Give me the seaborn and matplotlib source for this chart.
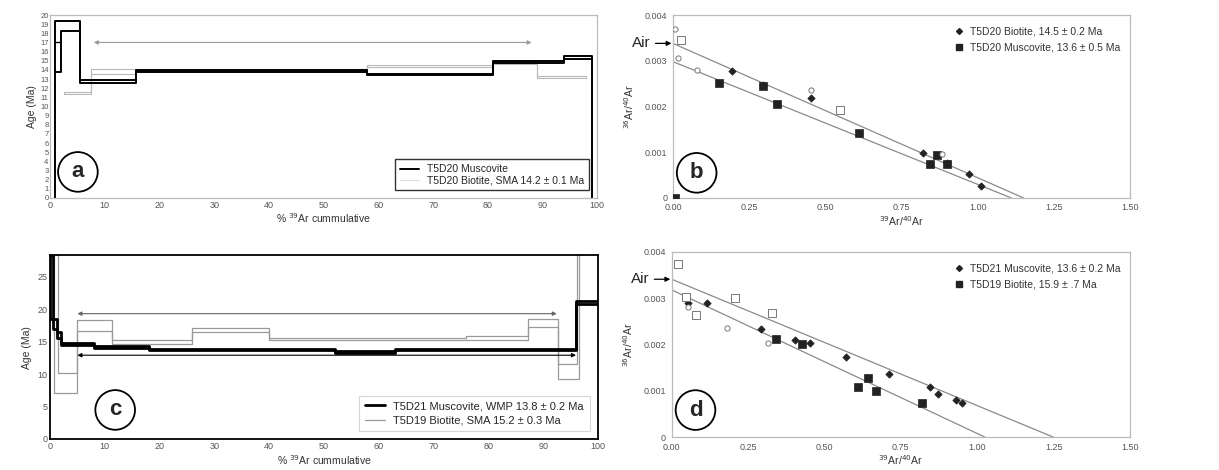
import numpy as np
import seaborn as sns
import matplotlib.pyplot as plt
from matplotlib.lines import Line2D

# ---- panel a: T5D20 age spectra (% 39Ar step edges, age bounds in Ma)
mus_a_edges = [0.9, 2.0, 5.5, 15.8, 58.0, 81.0, 94.0, 99.0]
mus_a_lo = [13.8, 18.2, 12.6, 13.8, 13.4, 14.7, 15.2]
mus_a_hi = [19.4, 19.4, 12.9, 14.0, 13.6, 15.0, 15.5]
bio_a_edges = [2.5, 7.5, 15.8, 58.0, 81.0, 89.0, 98.0]
bio_a_lo = [11.4, 13.6, 13.9, 14.3, 14.6, 13.1]
bio_a_hi = [11.6, 14.1, 14.1, 14.5, 14.9, 13.3]
plateau_a = [8.0, 88.0, 17.0]

# ---- panel c: T5D21 muscovite / T5D19 biotite age spectra
mus_c_edges = [0.0, 0.5, 1.3, 2.0, 8.0, 18.0, 52.0, 63.0, 96.0, 100.0]
mus_c_lo = [18.5, 17.0, 15.5, 14.4, 14.0, 13.7, 13.3, 13.7, 20.8]
mus_c_hi = [28.3, 18.5, 16.5, 14.8, 14.3, 13.9, 13.5, 13.9, 21.2]
bio_c_edges = [0.8, 1.4, 4.9, 11.4, 26.0, 40.0, 76.0, 87.3, 92.8, 96.2, 96.5]
bio_c_lo = [7.1, 7.1, 16.6, 14.7, 16.4, 15.2, 15.3, 17.3, 9.3, 9.3]
bio_c_hi = [28.3, 10.2, 18.3, 15.3, 17.1, 15.5, 15.8, 18.4, 11.6, 28.3]
plateau_c_bio = [5.0, 92.5, 19.3]
plateau_c_mus = [5.0, 96.0, 12.9]

# ---- panel b: T5D20 isochrons (39Ar/40Ar, 36Ar/40Ar)
bio_b_x = [0.194, 0.296, 0.454, 0.822, 0.898, 0.973, 1.012]
bio_b_y = [0.00278, 0.00247, 0.00219, 0.00099, 0.00076, 0.00052, 0.00027]
mus_b_x = [0.006, 0.150, 0.296, 0.342, 0.612, 0.843, 0.868, 0.898]
mus_b_y = [0.0, 0.00251, 0.00245, 0.00205, 0.00141, 0.00074, 0.00093, 0.00074]
open_circ_b_x = [0.006, 0.017, 0.080, 0.454, 0.882]
open_circ_b_y = [0.00369, 0.00305, 0.00280, 0.00236, 0.00095]
open_sq_b_x = [0.028, 0.548]
open_sq_b_y = [0.00345, 0.00192]
fit_b_bio = ([0.0, 1.15], [0.00338, 0.0])
fit_b_mus = ([0.0, 1.11], [0.00298, 0.0])
air_b = 0.00338

# ---- panel d: T5D21 muscovite / T5D19 biotite isochrons
mus_d_x = [0.053, 0.116, 0.293, 0.402, 0.454, 0.572, 0.710, 0.845, 0.873, 0.930, 0.949]
mus_d_y = [0.00290, 0.00289, 0.00234, 0.00210, 0.00203, 0.00172, 0.00136, 0.00109, 0.00094, 0.00080, 0.00073]
bio_d_x = [0.341, 0.426, 0.611, 0.644, 0.670, 0.820]
bio_d_y = [0.00212, 0.00202, 0.00109, 0.00128, 0.00100, 0.00073]
open_sq_d_x = [0.021, 0.048, 0.080, 0.206, 0.329]
open_sq_d_y = [0.00373, 0.00303, 0.00263, 0.00300, 0.00267]
open_circ_d_x = [0.053, 0.181, 0.316]
open_circ_d_y = [0.00280, 0.00236, 0.00204]
fit_d_mus = ([0.0, 1.249], [0.00341, 0.0])
fit_d_bio = ([0.0, 1.025], [0.00318, 0.0])
air_d = 0.00341

GREY = '#9a9a9a'
TICK = '#555555'

sns.set_style("white")
plt.rcParams['font.family'] = ['Liberation Sans', 'DejaVu Sans']

fig = plt.figure(figsize=(12.19, 4.70), dpi=100)
ax_a = fig.add_axes([0.041, 0.579, 0.449, 0.389])
ax_b = fig.add_axes([0.552, 0.579, 0.375, 0.389])
ax_c = fig.add_axes([0.041, 0.066, 0.4495, 0.391])
ax_d = fig.add_axes([0.551, 0.070, 0.376, 0.394])


def spectrum(ax, edges, lo, hi, color, lw):
    for bound in (lo, hi):
        sns.lineplot(x=list(edges), y=list(bound) + [bound[-1]], ax=ax, color=color,
                     lw=lw, drawstyle='steps-post', sort=False, estimator=None)
    ax.vlines([edges[0], edges[-1]], [lo[0], lo[-1]], [hi[0], hi[-1]], color=color, lw=lw)


def plateau(ax, p, color):
    ax.annotate('', xy=(p[1], p[2]), xytext=(p[0], p[2]),
                arrowprops=dict(arrowstyle='<|-|>', color=color, lw=0.8,
                                mutation_scale=6, shrinkA=0, shrinkB=0))


def circle_label(ax, x, y, s):
    ax.text(x, y, s, transform=ax.transAxes, ha='center', va='center',
            fontsize=16, fontweight='bold',
            bbox=dict(boxstyle='circle,pad=0.42', fc='white', ec='black', lw=1.3))


def style(ax, spine_color, spine_lw):
    for sp in ax.spines.values():
        sp.set_visible(True)
        sp.set_color(spine_color)
        sp.set_linewidth(spine_lw)
    ax.tick_params(length=0, labelsize=6.5, colors=TICK, pad=2)


# ---------------- panel a
spectrum(ax_a, bio_a_edges, bio_a_lo, bio_a_hi, '#b8b8b8', 0.8)
spectrum(ax_a, mus_a_edges, mus_a_lo, mus_a_hi, 'black', 1.4)
ax_a.vlines(mus_a_edges[-1], 0, mus_a_lo[-1], color='black', lw=1.4)
ax_a.vlines(mus_a_edges[0], 0, mus_a_lo[0], color='black', lw=1.4)
ax_a.hlines(17.0, mus_a_edges[0], mus_a_edges[1], color='black', lw=1.0)
plateau(ax_a, plateau_a, GREY)
ax_a.set_xlim(0, 100)
ax_a.set_ylim(0, 20)
ax_a.set_xticks(range(0, 101, 10))
ax_a.set_yticks(range(0, 21))
style(ax_a, '#bbbbbb', 0.9)
ax_a.tick_params(axis='y', labelsize=5.5, pad=1)
ax_a.set_xlabel(r'% $^{39}$Ar cummulative', fontsize=7.5, color='#333333', labelpad=1)
ax_a.set_ylabel('Age (Ma)', fontsize=7.5, color='#333333', labelpad=2)
h_a = [Line2D([], [], color='black', lw=1.4), Line2D([], [], color='#dddddd', lw=0.8)]
leg = ax_a.legend(h_a, ['T5D20 Muscovite', 'T5D20 Biotite, SMA 14.2 ± 0.1 Ma'],
                  loc='lower right', bbox_to_anchor=(0.995, 0.012), fontsize=7.5,
                  frameon=True, fancybox=False, handlelength=1.8, borderpad=0.5,
                  labelspacing=0.1, edgecolor='black')
leg.get_frame().set_linewidth(1.0)
circle_label(ax_a, 0.051, 0.142, 'a')

# ---------------- panel c
spectrum(ax_c, bio_c_edges, bio_c_lo, bio_c_hi, GREY, 0.9)
spectrum(ax_c, mus_c_edges, mus_c_lo, mus_c_hi, 'black', 2.0)
plateau(ax_c, plateau_c_bio, '#666666')
plateau(ax_c, plateau_c_mus, 'black')
ax_c.set_xlim(0, 100)
ax_c.set_ylim(0, 28.3)
ax_c.set_xticks(range(0, 101, 10))
ax_c.set_yticks(range(0, 26, 5))
style(ax_c, 'black', 1.3)
ax_c.set_xlabel(r'% $^{39}$Ar cummulative', fontsize=7.5, color='#333333', labelpad=2)
ax_c.set_ylabel('Age (Ma)', fontsize=7.5, color='#333333', labelpad=4)
h_c = [Line2D([], [], color='black', lw=2.0), Line2D([], [], color=GREY, lw=0.9)]
leg = ax_c.legend(h_c, ['T5D21 Muscovite, WMP 13.8 ± 0.2 Ma', 'T5D19 Biotite, SMA 15.2 ± 0.3 Ma'],
                  loc='lower right', bbox_to_anchor=(0.995, 0.012), fontsize=8,
                  frameon=True, fancybox=False, handlelength=1.8, borderpad=0.5,
                  labelspacing=0.4, edgecolor='#cccccc')
leg.get_frame().set_linewidth(0.8)
circle_label(ax_c, 0.119, 0.158, 'c')


# ---------------- isochron panels
def isochron(ax, fits, filled, opens, air, labels, letter):
    for fx, fy in fits:
        sns.lineplot(x=fx, y=fy, ax=ax, color='#8a8a8a', lw=0.9, sort=False, estimator=None)
    handles = []
    for (x, y, m, s) in filled:
        sns.scatterplot(x=x, y=y, ax=ax, marker=m, s=s, color='#222222', edgecolor='#222222',
                        linewidth=0.5, zorder=3)
        handles.append(Line2D([], [], ls='', marker=m, color='#222222',
                              markersize=np.sqrt(s) * 0.8))
    for (x, y, m, s) in opens:
        ax.scatter(x, y, marker=m, s=s, facecolors='white', edgecolors='#777777',
                   linewidths=0.7, zorder=3)
    ax.set_xlim(0, 1.5)
    ax.set_ylim(0, 0.004)
    ax.set_xticks([0, 0.25, 0.5, 0.75, 1.0, 1.25, 1.5])
    ax.set_xticklabels(['0.00', '0.25', '0.50', '0.75', '1.00', '1.25', '1.50'])
    ax.set_yticks([0, 0.001, 0.002, 0.003, 0.004])
    ax.set_yticklabels(['0', '0.001', '0.002', '0.003', '0.004'])
    style(ax, '#bbbbbb', 0.9)
    ax.tick_params(pad=4)
    ax.set_xlabel(r'$^{39}$Ar/$^{40}$Ar', fontsize=7.5, color='#333333', labelpad=1)
    ax.set_ylabel(r'$^{36}$Ar/$^{40}$Ar', fontsize=7.5, color='#333333', labelpad=6)
    ax.annotate('Air', xy=(0, air), xytext=(-22, 0), textcoords='offset pixels',
                ha='right', va='center', fontsize=11, annotation_clip=False,
                arrowprops=dict(arrowstyle='-|>', color='black', lw=0.9,
                                mutation_scale=7, shrinkA=1, shrinkB=1))
    ax.legend(handles, labels, loc='upper right', bbox_to_anchor=(1.0, 0.99), fontsize=7.5,
              frameon=False, handletextpad=0.6, labelspacing=0.6, handlelength=1.0,
              labelcolor='#333333')
    circle_label(ax, 0.052, letter[1], letter[0])


isochron(ax_b, [fit_b_bio, fit_b_mus],
         [(bio_b_x, bio_b_y, 'D', 14), (mus_b_x, mus_b_y, 's', 30)],
         [(open_circ_b_x, open_circ_b_y, 'o', 14), (open_sq_b_x, open_sq_b_y, 's', 26)],
         air_b, ['T5D20 Biotite, 14.5 ± 0.2 Ma', 'T5D20 Muscovite, 13.6 ± 0.5 Ma'], ('b', 0.137))

isochron(ax_d, [fit_d_mus, fit_d_bio],
         [(mus_d_x, mus_d_y, 'D', 14), (bio_d_x, bio_d_y, 's', 34)],
         [(open_sq_d_x, open_sq_d_y, 's', 30), (open_circ_d_x, open_circ_d_y, 'o', 14)],
         air_d, ['T5D21 Muscovite, 13.6 ± 0.2 Ma', 'T5D19 Biotite, 15.9 ± .7 Ma'], ('d', 0.146))

fig.savefig('out.png', dpi=100)
